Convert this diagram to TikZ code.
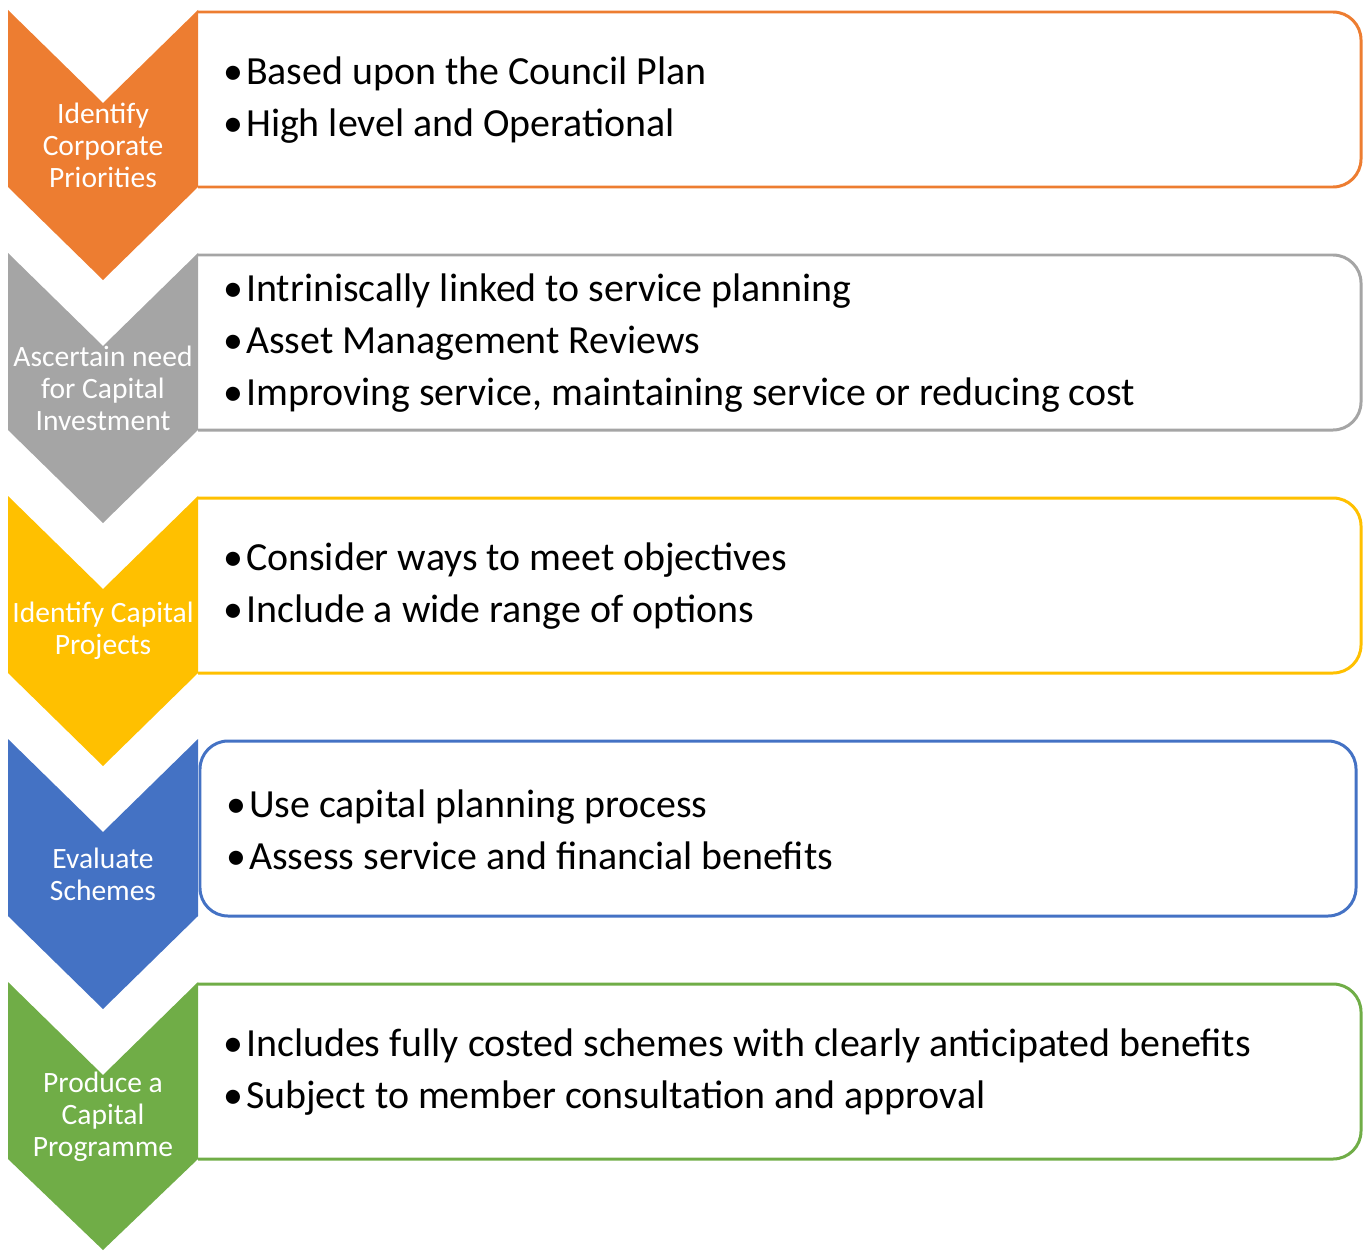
\documentclass[tikz,border=0pt]{standalone}
\usepackage{fontspec}
\setmainfont{Carlito}
\usetikzlibrary{shapes}

\definecolor{steporange}{HTML}{ED7D31}
\definecolor{stepgray}{HTML}{A5A5A5}
\definecolor{stepgold}{HTML}{FFC000}
\definecolor{stepblue}{HTML}{4472C4}
\definecolor{stepgreen}{HTML}{70AD47}

\newcommand{\blt}{\makebox[13pt][l]{\textbullet}}

\tikzset{
    box/.style={line width=1.7pt, rounded corners=0.56cm},
    lbl/.style={text=white, align=center, inner sep=0pt, font=\fontsize{16.8}{18.2}\selectfont},
    pts/.style={anchor=west, align=left, inner sep=0pt, font=\fontsize{22.7}{29.6}\selectfont}
}

\begin{document}
\begin{tikzpicture}

    \useasboundingbox (0,0) rectangle (27.26,-25);

    \draw [box, color=steporange] (3.96,-0.24) -- (27.22,-0.24) -- (27.22,-3.74) -- (3.96,-3.74);
    \fill [steporange] (0.16,-0.2) -- (2.06,-2.06) -- (3.96,-0.2) -- (3.96,-3.74) -- (2.06,-5.6) -- (0.16,-3.74) -- cycle;
    \node (s1) [lbl] at (2.06,-2.9) {Identify\\Corporate\\Priorities};
    \node (p1) [pts] at (4.46,-2.01) {\blt Based upon the Council Plan\\\blt High level and Operational};

    \draw [box, color=stepgray] (3.96,-5.1) -- (27.22,-5.1) -- (27.22,-8.6) -- (3.96,-8.6);
    \fill [stepgray] (0.16,-5.06) -- (2.06,-6.92) -- (3.96,-5.06) -- (3.96,-8.6) -- (2.06,-10.46) -- (0.16,-8.6) -- cycle;
    \node (s2) [lbl] at (2.06,-7.76) {Ascertain need\\for Capital\\Investment};
    \node (p2) [pts] at (4.46,-6.87) {\blt Intriniscally linked to service planning\\\blt Asset Management Reviews\\\blt Improving service, maintaining service or reducing cost};

    \draw [box, color=stepgold] (3.96,-9.96) -- (27.22,-9.96) -- (27.22,-13.46) -- (3.96,-13.46);
    \fill [stepgold] (0.16,-9.92) -- (2.06,-11.78) -- (3.96,-9.92) -- (3.96,-13.46) -- (2.06,-15.32) -- (0.16,-13.46) -- cycle;
    \node (s3) [lbl] at (2.06,-12.62) {Identify Capital\\Projects};
    \node (p3) [pts] at (4.46,-11.73) {\blt Consider ways to meet objectives\\\blt Include a wide range of options};

    \draw [box, color=stepblue] (4.0,-14.82) -- (27.12,-14.82) -- (27.12,-18.32) -- (4.0,-18.32) -- cycle;
    \fill [stepblue] (0.16,-14.78) -- (2.06,-16.64) -- (3.96,-14.78) -- (3.96,-18.32) -- (2.06,-20.18) -- (0.16,-18.32) -- cycle;
    \node (s4) [lbl] at (2.06,-17.48) {Evaluate\\Schemes};
    \node (p4) [pts] at (4.52,-16.59) {\blt Use capital planning process\\\blt Assess service and financial benefits};

    \draw [box, color=stepgreen] (3.96,-19.68) -- (27.22,-19.68) -- (27.22,-23.18) -- (3.96,-23.18);
    \fill [stepgreen] (0.16,-19.64) -- (2.06,-21.5) -- (3.96,-19.64) -- (3.96,-23.18) -- (2.06,-25) -- (0.16,-23.18) -- cycle;
    \node (s5) [lbl] at (2.06,-22.34) {Produce a\\Capital\\Programme};
    \node (p5) [pts] at (4.46,-21.45) {\blt Includes fully costed schemes with clearly anticipated benefits\\\blt Subject to member consultation and approval};

\end{tikzpicture}
\end{document}
